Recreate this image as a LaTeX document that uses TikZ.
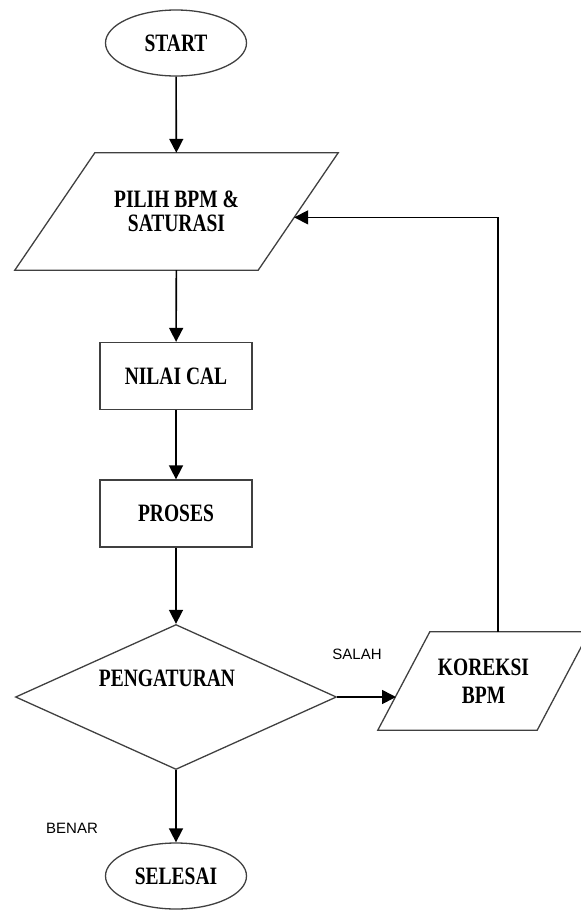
\documentclass[tikz,border=0pt]{standalone}
\usepackage{fontspec}
\usepackage{tikz}
\usetikzlibrary{shapes.geometric,arrows.meta,calc}
\newfontfamily\boxfont{Liberation Serif}[FakeStretch=0.78]
\newfontfamily\notefont{Liberation Sans}

\begin{document}
\begin{tikzpicture}[x=1pt, y=-1pt,
		garis/.style={draw=black!75, line width=1.3pt},
		teks/.style={font=\boxfont\bfseries\fontsize{25}{26}\selectfont, align=center},
		terminal/.style={garis, teks, ellipse, minimum width=141pt, minimum height=66pt, inner sep=0pt},
		kotak/.style={garis, teks, rectangle, minimum width=152pt, minimum height=67pt, inner sep=0pt},
		badan/.style={teks, rectangle, inner sep=0pt},
		keputusan/.style={garis, diamond, minimum width=321pt, minimum height=145pt, inner sep=0pt, aspect=2.2},
		catatan/.style={font=\notefont\fontsize{15}{18}\selectfont},
		arr/.style={-{Triangle[length=14pt,width=14pt]}, line width=1.6pt}]
					\useasboundingbox (0,0) rectangle (581,911);
					
					% Main column
					\node[terminal] (mulai) at (176,43) {START};
					\node[badan, minimum width=243pt, minimum height=117pt] (pilih) at (176.5,211.5) {PILIH BPM \&\\[-2pt] SATURASI};
					\node[kotak] (nilai) at (176,376) {NILAI CAL};
					\node[kotak] (proses) at (176,513.5) {PROSES};
					\node[keputusan, label={[teks, xshift=-9pt, yshift=19pt]center:PENGATURAN}] (cek) at (176,697) {};
					\node[terminal] (selesai) at (176,876) {SELESAI};
					
					% Correction branch
					\node[badan, minimum width=159pt, minimum height=98pt] (koreksi) at (483.5,681) {KOREKSI\\[2pt] BPM};
					
					% Branch labels
					\node[catatan] (salah) at (357,654) {SALAH};
					\node[catatan] (benar) at (72,828) {BENAR};
					
					% Parallelogram corners
					\coordinate (pilih-ka) at ($(pilih.north east)+(40,0)$);
					\coordinate (pilih-kb) at ($(pilih.south east)+(-40,0)$);
					\coordinate (koreksi-ka) at ($(koreksi.north west)+(26,0)$);
					\coordinate (koreksi-kb) at ($(koreksi.south west)+(-26,0)$);
					\draw[garis] (pilih-kb) -- (pilih-ka) -- ($(pilih.north west)+(40,0)$) -- ($(pilih.south west)+(-40,0)$) -- cycle;
					\draw[garis] (koreksi-kb) -- (koreksi-ka) -- ($(koreksi.north east)+(26,0)$) -- ($(koreksi.south east)+(-26,0)$) -- cycle;
					
					% Define coordinates
					\coordinate (kembali) at ($(pilih-ka)!0.55!(pilih-kb)$);
					\coordinate (masuk) at ($(koreksi-ka)!0.65!(koreksi-kb)$);
					\coordinate (belok) at (498,0);
					
					% Draw the arrows
					\draw[arr] (mulai) -- (pilih);
					\draw[arr] (pilih) -- (nilai);
					\draw[arr] (nilai) -- (proses);
					\draw[arr] (proses) -- (cek);
					\draw[arr] (cek) -- (selesai);
					\draw[arr] (cek.east) -- (cek.east -| masuk);
					\draw[arr] (belok |- koreksi.north) |- (kembali);
				\end{tikzpicture}
\end{document}
